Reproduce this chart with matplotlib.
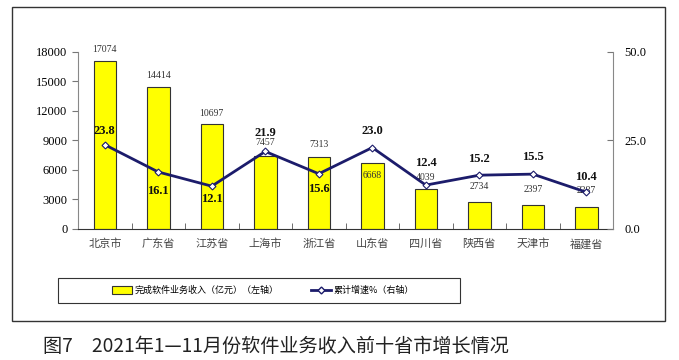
import matplotlib.pyplot as plt
import numpy as np
from matplotlib.patches import Rectangle
from matplotlib.lines import Line2D
from matplotlib.patches import Patch

plt.rcParams['font.family'] = ['Liberation Serif', 'Noto Sans CJK SC']

provinces = ['北京市', '广东省', '江苏省', '上海市', '浙江省', '山东省', '四川省', '陕西省', '天津市', '福建省']
revenue = [17074, 14414, 10697, 7457, 7313, 6668, 4039, 2734, 2397, 2287]
growth = [23.8, 16.1, 12.1, 21.9, 15.6, 23.0, 12.4, 15.2, 15.5, 10.4]

left_ticks = [0, 3000, 6000, 9000, 12000, 15000, 18000]
right_ticks = [0, 25, 50]

# label offsets in points (style only)
growth_off = [10, -14, -9, 13, -11, 12, 16, 12, 12, 11]
rev_off = [5, 5, 4, 6, 6, -9, 5, 8, 8, 8]

fig = plt.figure(figsize=(6.79, 3.6), dpi=100)
fig.patches.append(Rectangle((0.0177, 0.108), 0.9613, 0.873, transform=fig.transFigure,
                             fill=False, edgecolor='#333333', linewidth=1.0))

ax = fig.add_axes([0.1149, 0.3639, 0.788, 0.4917])
x = np.arange(len(provinces))
ax.bar(x, revenue, width=0.42, color='#ffff00', edgecolor='#333333', linewidth=0.8, zorder=2)
ax.set_xlim(-0.5, len(provinces) - 0.5)
ax.set_ylim(0, 18000)
ax.set_yticks(left_ticks)
ax.set_yticklabels([str(t) for t in left_ticks], fontsize=9)
ax.set_xticks(x)
ax.set_xticklabels(provinces, fontsize=8, family=['Noto Sans CJK SC'], color='#444444')
ax.tick_params(axis='x', length=0, pad=7)
ax.set_xticks(np.arange(0.5, len(provinces) - 1, 1), minor=True)
ax.tick_params(axis='x', which='minor', direction='in', length=4, color='#555555')
ax.tick_params(axis='y', direction='out', length=4, color='#777777', labelsize=9)
ax.spines['top'].set_visible(False)
ax.spines['right'].set_visible(False)
ax.spines['left'].set_color('#888888')
ax.spines['bottom'].set_color('#333333')

for xi, v, off in zip(x, revenue, rev_off):
    ax.annotate(str(v), (xi, v), xytext=(0, off), textcoords='offset points',
                ha='center', va='bottom' if off > 0 else 'center', fontsize=7, color='#333333')

ax2 = ax.twinx()
ax2.plot(x, growth, color='#1c1c6b', linewidth=2, marker='D', markersize=3.5,
         markerfacecolor='white', markeredgecolor='#1c1c6b', markeredgewidth=0.8, zorder=3)
ax2.set_ylim(0, 50)
ax2.set_yticks(right_ticks)
ax2.set_yticklabels(['%.1f' % t for t in right_ticks], fontsize=9)
ax2.tick_params(axis='y', direction='in', length=4, color='#777777', pad=8)
ax2.spines['top'].set_visible(False)
ax2.spines['left'].set_visible(False)
ax2.spines['bottom'].set_visible(False)
ax2.spines['right'].set_color('#888888')

for xi, g, off in zip(x, growth, growth_off):
    ax2.annotate('%.1f' % g, (xi, g), xytext=(0, off), textcoords='offset points',
                 ha='center', va='center', fontsize=9, fontweight='bold', color='#111111')

# legend box drawn separately, legend entries centered inside it
fig.patches.append(Rectangle((0.0854, 0.158), 0.592, 0.07, transform=fig.transFigure,
                             fill=False, edgecolor='#333333', linewidth=0.8))
handles = [Patch(facecolor='#ffff00', edgecolor='#333333', linewidth=0.8),
           Line2D([], [], color='#1c1c6b', linewidth=2, marker='D', markersize=3.5,
                  markerfacecolor='white', markeredgecolor='#1c1c6b')]
labels = ['完成软件业务收入（亿元）（左轴）', '累计增速%（右轴）']
fig.legend(handles, labels, loc='center', bbox_to_anchor=(0.387, 0.193), ncol=2,
           frameon=False, columnspacing=3.6, handlelength=2.2, handleheight=0.9,
           handletextpad=0.3, prop={'family': ['Noto Sans CJK SC'], 'size': 6.5})

fig.text(0.063, 0.038, '图7　2021年1—11月份软件业务收入前十省市增长情况', fontsize=13.8,
         family=['Noto Sans CJK SC'], ha='left', va='center', color='#222222')

fig.savefig('out.png', dpi=100)
